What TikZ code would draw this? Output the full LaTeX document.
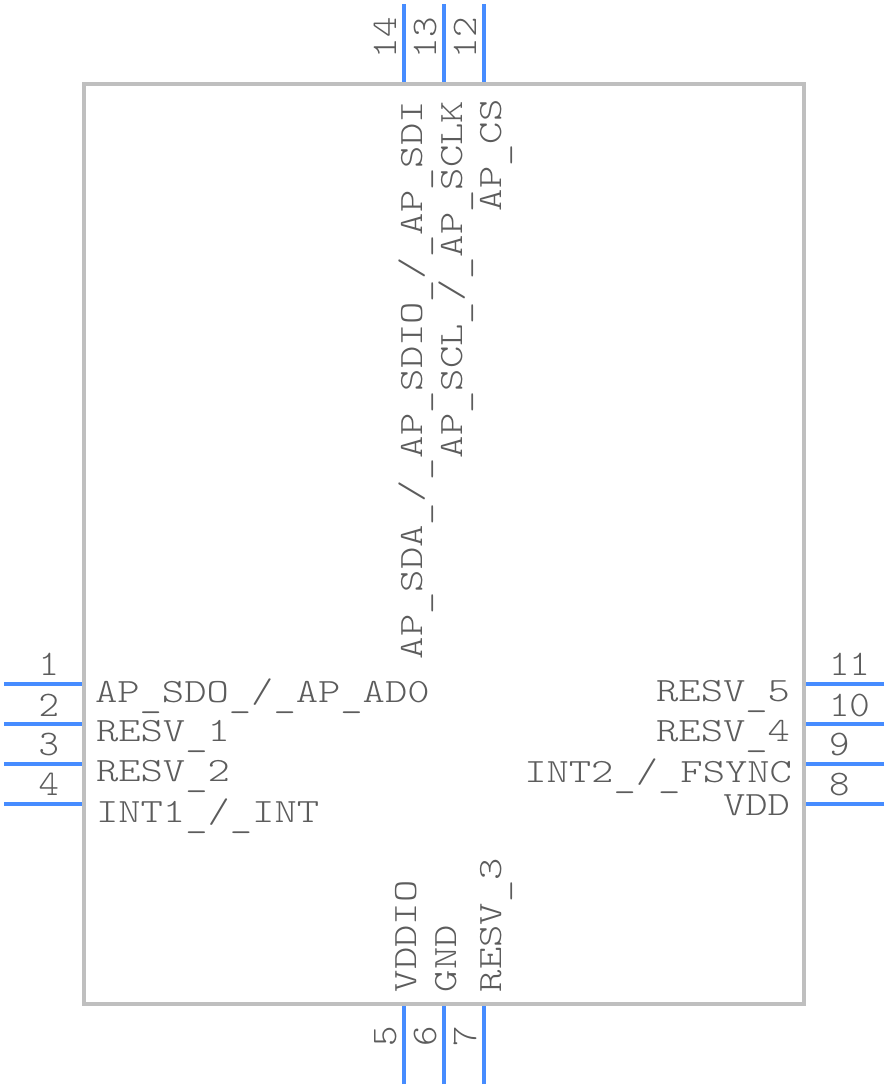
\documentclass[tikz,border=0pt]{standalone}
\usepackage{fontspec}
\usepackage{tikz}
\newfontfamily\pinname[FakeStretch=1.25]{Latin Modern Mono Light}
\newfontfamily\pinnum[FakeStretch=1.08]{Latin Modern Mono Light}
\newcommand\us{\raisebox{-5pt}{\_}}
\definecolor{body_gray}{RGB}{191,191,191}
\definecolor{pin_blue}{RGB}{70,140,255}
\definecolor{text_gray}{RGB}{92,92,92}

\begin{document}
\begin{tikzpicture}[x=1pt,y=-1pt]
    \tikzstyle{chip}=[draw=body_gray, line width=4pt, minimum width=720pt, minimum height=920pt, inner sep=0pt, outer sep=0pt, fill=none]
    \tikzstyle{lead}=[draw=pin_blue, line width=4pt]
    \tikzstyle{sig}=[text=text_gray, inner sep=0pt, outer sep=0pt, font=\pinname\fontsize{34}{34}\selectfont]
    \tikzstyle{idx}=[text=text_gray, inner sep=0pt, outer sep=0pt, font=\pinnum\fontsize{36}{36}\selectfont]
    \tikzstyle{sigl}=[style=sig, anchor=base west]
    \tikzstyle{sigr}=[style=sig, anchor=base east]
    \tikzstyle{sigv}=[style=sig, anchor=base west, rotate=90]
    \tikzstyle{idxl}=[style=idx, anchor=base east]
    \tikzstyle{idxr}=[style=idx, anchor=base west]
    \tikzstyle{idxv}=[style=idx, anchor=base west, rotate=90]

    \useasboundingbox (0,0) rectangle (888,1088);

    \node[chip] (ic) at (444,544) {};

    % pin ends
    \coordinate (p1a)  at (4,684);    \coordinate (p1b)  at (82,684);
    \coordinate (p2a)  at (4,724);    \coordinate (p2b)  at (82,724);
    \coordinate (p3a)  at (4,764);    \coordinate (p3b)  at (82,764);
    \coordinate (p4a)  at (4,804);    \coordinate (p4b)  at (82,804);
    \coordinate (p5a)  at (404,1084); \coordinate (p5b)  at (404,1006);
    \coordinate (p6a)  at (444,1084); \coordinate (p6b)  at (444,1006);
    \coordinate (p7a)  at (484,1084); \coordinate (p7b)  at (484,1006);
    \coordinate (p8a)  at (884,804);  \coordinate (p8b)  at (806,804);
    \coordinate (p9a)  at (884,764);  \coordinate (p9b)  at (806,764);
    \coordinate (p10a) at (884,724);  \coordinate (p10b) at (806,724);
    \coordinate (p11a) at (884,684);  \coordinate (p11b) at (806,684);
    \coordinate (p12a) at (484,4);    \coordinate (p12b) at (484,82);
    \coordinate (p13a) at (444,4);    \coordinate (p13b) at (444,82);
    \coordinate (p14a) at (404,4);    \coordinate (p14b) at (404,82);

    \path
     (p1a) edge[lead] (p1b)
     (p2a) edge[lead] (p2b)
     (p3a) edge[lead] (p3b)
     (p4a) edge[lead] (p4b)
     (p5a) edge[lead] (p5b)
     (p6a) edge[lead] (p6b)
     (p7a) edge[lead] (p7b)
     (p8a) edge[lead] (p8b)
     (p9a) edge[lead] (p9b)
     (p10a) edge[lead] (p10b)
     (p11a) edge[lead] (p11b)
     (p12a) edge[lead] (p12b)
     (p13a) edge[lead] (p13b)
     (p14a) edge[lead] (p14b)
     ;

    % pin numbers
    \node[idxl] (n1) at (59,675) {1};
    \node[idxl] (n2) at (59,716) {2};
    \node[idxl] (n3) at (59,755) {3};
    \node[idxl] (n4) at (59,795) {4};
    \node[idxv] (n5) at (396,1046) {5};
    \node[idxv] (n6) at (436,1046) {6};
    \node[idxv] (n7) at (476,1046) {7};
    \node[idxr] (n8) at (829,795) {8};
    \node[idxr] (n9) at (829,755) {9};
    \node[idxr] (n10) at (829,716) {10};
    \node[idxr] (n11) at (829,675) {11};
    \node[idxv] (n12) at (476,58) {12};
    \node[idxv] (n13) at (436,58) {13};
    \node[idxv] (n14) at (396,58) {14};

    % pin names
    \node[sigl] (l1) at (95,702) {AP\us SDO\us /\us AP\us AD0};
    \node[sigl] (l2) at (96,741) {RESV\us 1};
    \node[sigl] (l3) at (96,781) {RESV\us 2};
    \node[sigl] (l4) at (96,822) {INT1\us /\us INT};
    \node[sigv] (l5) at (416,992) {VDDIO};
    \node[sigv] (l6) at (456,992) {GND};
    \node[sigv] (l7) at (501,992) {RESV\us 3};
    \node[sigr] (l8) at (790,815) {VDD};
    \node[sigr] (l9) at (792,782) {INT2\us /\us FSYNC};
    \node[sigr] (l10) at (790,741) {RESV\us 4};
    \node[sigr] (l11) at (790,701) {RESV\us 5};
    \node[sigv] (l12) at (501,211) {AP\us CS};
    \node[sigv] (l13) at (462,458) {AP\us SCL\us /\us AP\us SCLK};
    \node[sigv] (l14) at (422,659) {AP\us SDA\us /\us AP\us SDIO\us /\us AP\us SDI};
\end{tikzpicture}
\end{document}
